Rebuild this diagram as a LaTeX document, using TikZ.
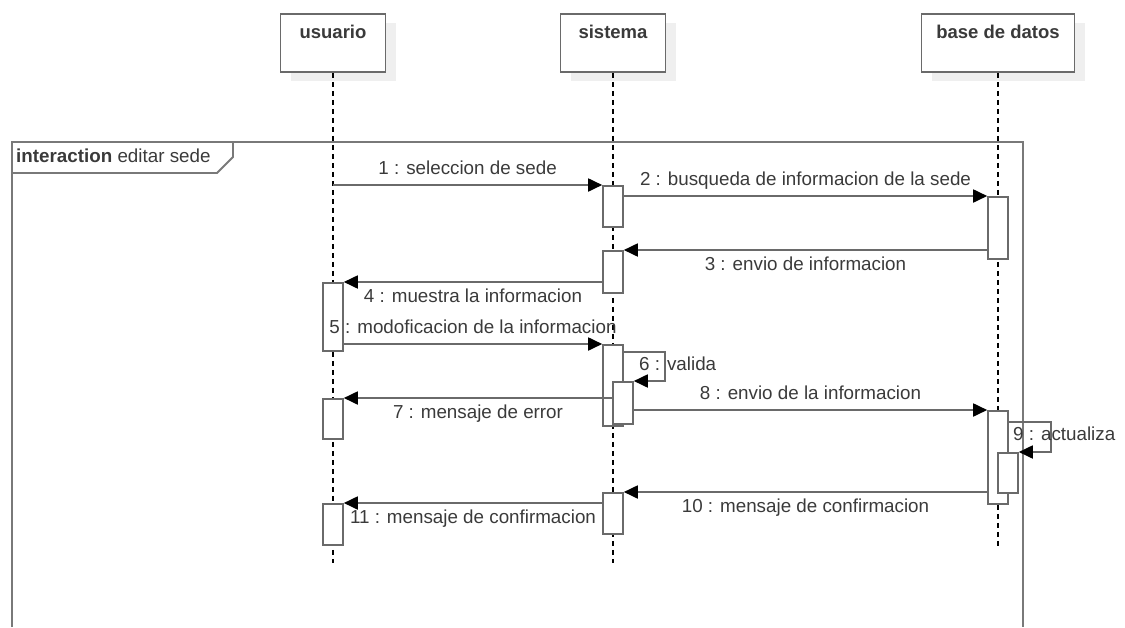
\documentclass[tikz,border=0pt]{standalone}
\usepackage{fontspec}
\setmainfont{Liberation Sans}
\usepackage{xcolor}
\usepackage{tikz}
\usetikzlibrary{arrows.meta,shadows}
\definecolor{ink}{HTML}{3A3A3A}
\definecolor{edge}{HTML}{6A6A6A}
\definecolor{shade}{HTML}{EFEFEF}
\tikzset{
  head/.style={draw=edge, line width=1.8pt, fill=white, minimum width=105pt, minimum height=58pt,
    inner sep=0pt, text height=14pt, text depth=22pt, anchor=north, text=ink,
    font=\fontsize{18.5}{20}\selectfont\bfseries,
    drop shadow={shadow xshift=10pt, shadow yshift=-9pt, fill=shade, opacity=1}},
  life/.style={line width=1.3pt, dash pattern=on 5pt off 4pt},
  act/.style={draw=edge, line width=1.6pt, fill=white, minimum width=20pt, inner sep=0pt, anchor=north},
  msg/.style={draw=edge, line width=1.8pt, -{Triangle[length=14pt,width=13pt,color=black]}},
  frame/.style={draw=edge!90, line width=1.8pt},
  lab/.style={text=ink, font=\fontsize{18.8}{20}\selectfont, inner sep=0pt, text height=13.5pt, text depth=3.5pt},
}

\begin{document}
\begin{tikzpicture}[x=1pt, y=-1pt]
  \useasboundingbox (0,0) rectangle (1125,627);

  % frame
  \draw[frame] (12,627) -- (12,142) -- (1023,142) -- (1023,627);
  \draw[frame] (12,173) -- (217,173) -- (233,157) -- (233,142);
  \node[lab, anchor=west] (tab) at (16,157) {\textbf{interaction} editar sede};

  % lifelines
  \node[head] (usuario) at (333,13) {usuario};
  \node[head] (sistema) at (613,13) {sistema};
  \node[head, minimum width=153pt] (bd) at (998,13) {base de datos};

  \coordinate (usuario-end) at (333,563);
  \coordinate (sistema-end) at (613,563);
  \coordinate (bd-end) at (998,548);

  \draw[life] (usuario) -- (usuario-end);
  \draw[life] (sistema) -- (sistema-end);
  \draw[life] (bd) -- (bd-end);

  % activations
  \node[act, minimum height=41pt] (a1) at (613,185) {};
  \node[act, minimum height=62pt] (d1) at (998,196) {};
  \node[act, minimum height=42pt] (a2) at (613,250) {};
  \node[act, minimum height=68pt] (u1) at (333,282) {};
  \node[act, minimum height=81pt] (a3) at (613,344) {};
  \node[act, minimum height=42pt] (a4) at (623,381) {};
  \node[act, minimum height=40pt] (u2) at (333,398) {};
  \node[act, minimum height=93pt] (d2) at (998,410) {};
  \node[act, minimum height=40pt] (d3) at (1008,452) {};
  \node[act, minimum height=41pt] (a5) at (613,492) {};
  \node[act, minimum height=41pt] (u3) at (333,503) {};

  % messages
  \draw[msg] (usuario |- a1.north) -- (a1.north west)
    node[lab, midway, above=6pt] (l1) {1 : seleccion de sede};
  \draw[msg] (a1.east |- 0,196) -- (d1.north west)
    node[lab, midway, above=6pt] (l2) {2 : busqueda de informacion de la sede};
  \draw[msg] (d1.west |- a2.north) -- (a2.north east)
    node[lab, midway, below=6pt] (l3) {3 : envio de informacion};
  \draw[msg] (a2.west |- u1.north) -- (u1.north east)
    node[lab, midway, below=6pt] (l4) {4 : muestra la informacion};
  \draw[msg] (u1.east |- a3.north) -- (a3.north west)
    node[lab, midway, above=6pt] (l5) {5 : modoficacion de la informacion};

  \coordinate (loop6) at (665,352);
  \draw[msg] (a3.east |- loop6) -- (loop6) |- (a4.north east);
  \node[lab, anchor=west] (l6) at (639,365) {6 : valida};

  \draw[msg] (a4.west |- u2.north) -- (u2.north east)
    node[lab, midway, below=6pt] (l7) {7 : mensaje de error};
  \draw[msg] (a4.east |- d2.north) -- (d2.north west)
    node[lab, midway, above=6pt] (l8) {8 : envio de la informacion};

  \coordinate (loop9) at (1051,422);
  \draw[msg] (d2.east |- loop9) -- (loop9) |- (d3.north east);
  \node[lab, anchor=west] (l9) at (1013,435) {9 : actualiza};

  \draw[msg] (d2.west |- a5.north) -- (a5.north east)
    node[lab, midway, below=6pt] (l10) {10 : mensaje de confirmacion};
  \draw[msg] (a5.west |- u3.north) -- (u3.north east)
    node[lab, midway, below=6pt] (l11) {11 : mensaje de confirmacion};
\end{tikzpicture}
\end{document}
